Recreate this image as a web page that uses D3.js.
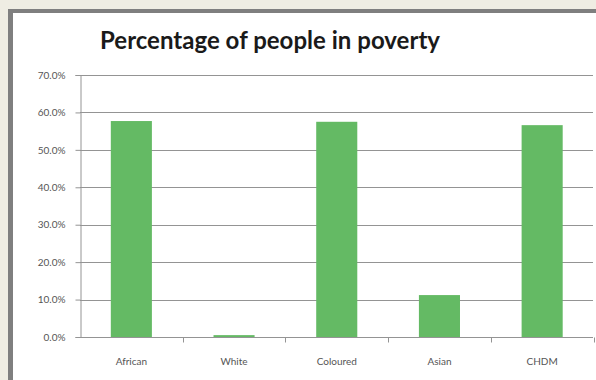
<!DOCTYPE html>
<html><head><meta charset="utf-8">
<script src="https://cdn.jsdelivr.net/npm/d3@7"></script>
<style>html,body{margin:0;padding:0;background:#efede3;}</style>
</head><body>
<svg id="chart" width="596" height="380"></svg>
<script>
const categories = ["African", "White", "Coloured", "Asian", "CHDM"];
const values = [57.7, 0.5, 57.5, 11.2, 56.6];
const yTicks = [0, 10, 20, 30, 40, 50, 60, 70];
const title = "Percentage of people in poverty";

const svg = d3.select("#chart");
// frame
svg.append("rect").attr("x", 8).attr("y", 9).attr("width", 600).attr("height", 380).attr("fill", "#7f7f7f");
svg.append("rect").attr("x", 13).attr("y", 13).attr("width", 600).attr("height", 380).attr("fill", "#ffffff");

const x = d3.scaleBand().domain(categories).range([80, 593.5]).paddingInner(0.6).paddingOuter(0.3);
const y = d3.scaleLinear().domain([0, 70]).range([337, 75]);

svg.append("text").attr("x", 270).attr("y", 49).attr("text-anchor", "middle")
  .attr("font-family", "Lato, 'Open Sans', sans-serif").attr("font-weight", "bold")
  .attr("font-size", 24).attr("textLength", 340).attr("fill", "#1a1a1a").text(title);

// gridlines
svg.append("g").selectAll("line").data(yTicks.slice(1)).join("line")
  .attr("x1", 80).attr("x2", 593).attr("y1", d => Math.round(y(d)) + 0.5).attr("y2", d => Math.round(y(d)) + 0.5)
  .attr("stroke", "#949494").attr("stroke-width", 1);

// y axis
const yAxis = d3.axisLeft(y).tickValues(yTicks).tickSize(5).tickFormat(d => d.toFixed(1) + "%");
const gy = svg.append("g").attr("transform", "translate(80.5,0)").call(yAxis);
gy.select(".domain").attr("stroke", "#949494");
gy.selectAll(".tick line").attr("stroke", "#949494");
gy.selectAll(".tick text").attr("font-family", "Lato, 'Open Sans', sans-serif").attr("font-size", 10)
  .attr("fill", "#555").attr("x", -15);

// bars
svg.append("g").selectAll("rect").data(categories).join("rect")
  .attr("x", d => x(d)).attr("width", x.bandwidth())
  .attr("y", (d, i) => y(values[i])).attr("height", (d, i) => y(0) - y(values[i]))
  .attr("fill", "#64ba64");

// x axis
const xb = d3.scaleLinear().domain([0, 5]).range([80, 593.5]);
const gx = svg.append("g").attr("transform", "translate(0," + (Math.round(y(0)) + 0.5) + ")");
gx.append("line").attr("x1", 80).attr("x2", 593).attr("stroke", "#949494");
gx.selectAll(".tk").data([1, 2, 3, 4, 5]).join("line").attr("class", "tk")
  .attr("x1", d => Math.round(xb(d)) + 0.5).attr("x2", d => Math.round(xb(d)) + 0.5)
  .attr("y1", 0).attr("y2", 5).attr("stroke", "#949494");
gx.selectAll("text").data(categories).join("text")
  .attr("x", d => x(d) + x.bandwidth() / 2).attr("y", 27).attr("text-anchor", "middle")
  .attr("font-family", "Lato, 'Open Sans', sans-serif").attr("font-size", 10).attr("fill", "#555")
  .text(d => d);
</script>
</body></html>
